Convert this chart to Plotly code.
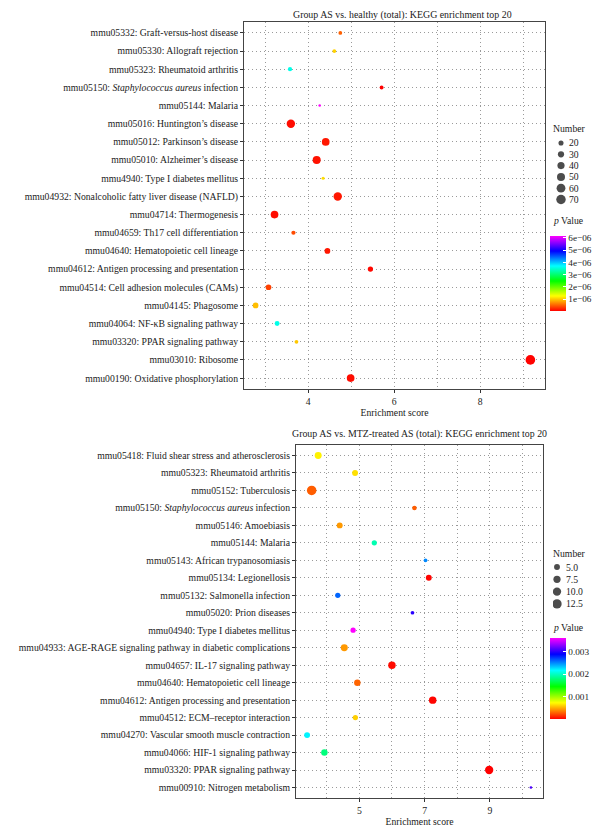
import plotly.graph_objects as go

# ---------------- data: top chart ----------------
top_terms = [
    "mmu05332: Graft-versus-host disease",
    "mmu05330: Allograft rejection",
    "mmu05323: Rheumatoid arthritis",
    "mmu05150: <i>Staphylococcus aureus</i> infection",
    "mmu05144: Malaria",
    "mmu05016: Huntington’s disease",
    "mmu05012: Parkinson’s disease",
    "mmu05010: Alzheimer’s disease",
    "mmu4940: Type I diabetes mellitus",
    "mmu04932: Nonalcoholic fatty liver disease (NAFLD)",
    "mmu04714: Thermogenesis",
    "mmu04659: Th17 cell differentiation",
    "mmu04640: Hematopoietic cell lineage",
    "mmu04612: Antigen processing and presentation",
    "mmu04514: Cell adhesion molecules (CAMs)",
    "mmu04145: Phagosome",
    "mmu04064: NF-κB signaling pathway",
    "mmu03320: PPAR signaling pathway",
    "mmu03010: Ribosome",
    "mmu00190: Oxidative phosphorylation",
]
top_score = [4.75, 4.61, 3.58, 5.71, 4.27, 3.60, 4.41, 4.20, 4.35, 4.69,
             3.22, 3.66, 4.45, 5.45, 3.08, 2.78, 3.28, 3.73, 9.17, 4.99]
top_count = [11, 11, 14, 12, 5, 55, 46, 50, 8, 55,
             46, 14, 25, 22, 25, 25, 19, 11, 72, 46]
top_pvalue = [0.5e-6, 1.05e-6, 3.6e-6, 0.04e-6, 6.16e-6, 0.10e-6, 0.15e-6, 0.12e-6, 1.1e-6, 0.15e-6,
              0.10e-6, 0.40e-6, 0.15e-6, 0.08e-6, 0.35e-6, 0.95e-6, 3.6e-6, 1.0e-6, 0.05e-6, 0.10e-6]
top_xticks = [4, 6, 8]
top_size_breaks = [20, 30, 40, 50, 60, 70]
top_size_labels = ["20", "30", "40", "50", "60", "70"]
top_cbar_vals = [1e-6, 2e-6, 3e-6, 4e-6, 5e-6, 6e-6]
top_cbar_text = ["1e−06", "2e−06", "3e−06", "4e−06", "5e−06", "6e−06"]

# ---------------- data: bottom chart ----------------
bot_terms = [
    "mmu05418: Fluid shear stress and atherosclerosis",
    "mmu05323: Rheumatoid arthritis",
    "mmu05152: Tuberculosis",
    "mmu05150: <i>Staphylococcus aureus</i> infection",
    "mmu05146: Amoebiasis",
    "mmu05144: Malaria",
    "mmu05143: African trypanosomiasis",
    "mmu05134: Legionellosis",
    "mmu05132: Salmonella infection",
    "mmu05020: Prion diseases",
    "mmu04940: Type I diabetes mellitus",
    "mmu04933: AGE-RAGE signaling pathway in diabetic complications",
    "mmu04657: IL-17 signaling pathway",
    "mmu04640: Hematopoietic cell lineage",
    "mmu04612: Antigen processing and presentation",
    "mmu04512: ECM–receptor interaction",
    "mmu04270: Vascular smooth muscle contraction",
    "mmu04066: HIF-1 signaling pathway",
    "mmu03320: PPAR signaling pathway",
    "mmu00910: Nitrogen metabolism",
]
bot_score = [3.74, 4.87, 3.54, 6.69, 4.40, 5.46, 7.03, 7.13, 4.34, 6.63,
             4.81, 4.54, 6.00, 4.94, 7.25, 4.88, 3.40, 3.93, 8.98, 10.26]
bot_count = [7, 5, 13, 3, 5, 4, 2, 5, 4, 2,
             4, 7, 8, 6, 8, 4, 5, 6, 10, 1]
bot_pvalue = [0.00070, 0.00065, 0.00028, 0.00028, 0.00045, 0.00195, 0.00250, 0.00003, 0.00260, 0.00300,
              0.00360, 0.00045, 0.00005, 0.00030, 0.00003, 0.00060, 0.00220, 0.00180, 0.00002, 0.00310]
bot_xticks = [5, 7, 9]
bot_size_breaks = [5.0, 7.5, 10.0, 12.5]
bot_size_labels = ["5.0", "7.5", "10.0", "12.5"]
bot_cbar_vals = [0.001, 0.002, 0.003]
bot_cbar_text = ["0.001", "0.002", "0.003"]

top_title = "Group AS vs. healthy (total): KEGG enrichment top 20"
bot_title = "Group AS vs. MTZ-treated AS (total): KEGG enrichment top 20"
x_title = "Enrichment score"

# ---------------- style ----------------
W, H = 600, 825
FONT = "Liberation Serif"
FS = 9.7
CFS = 9.2
TXT = "#1a1a1a"
GRID = "#9a9a9a"
GDASH = "1px,3px"
rainbow = [[0.0, "#FF0000"], [0.2, "#FFFF00"], [0.4, "#00FF00"],
           [0.6, "#00FFFF"], [0.8, "#0000FF"], [1.0, "#FF00FF"]]


def px_x(a, b):
    return [a / W, b / W]


def px_y(top, bottom):
    return [1 - bottom / H, 1 - top / H]


top_ref = 2 * 70 / (9.5 ** 2)
bot_ref = 2 * 13 / (9.5 ** 2)

fig = go.Figure()

fig.add_trace(go.Scatter(
    x=top_score, y=top_terms, mode="markers", xaxis="x", yaxis="y",
    marker=dict(size=top_count, sizemode="area", sizeref=top_ref,
                color=top_pvalue, coloraxis="coloraxis", line=dict(width=0), opacity=1),
    showlegend=False, hoverinfo="x+y"))

fig.add_trace(go.Scatter(
    x=bot_score, y=bot_terms, mode="markers", xaxis="x2", yaxis="y2",
    marker=dict(size=bot_count, sizemode="area", sizeref=bot_ref,
                color=bot_pvalue, coloraxis="coloraxis2", line=dict(width=0), opacity=1),
    showlegend=False, hoverinfo="x+y"))

# size legends (drawn through the same size scales)
fig.add_trace(go.Scatter(
    x=[0] * len(top_size_breaks), y=list(range(len(top_size_breaks))), mode="markers",
    xaxis="x3", yaxis="y3",
    marker=dict(size=top_size_breaks, sizemode="area", sizeref=top_ref, color="black", line=dict(width=0)),
    showlegend=False, hoverinfo="skip"))
fig.add_trace(go.Scatter(
    x=[0] * len(bot_size_breaks), y=list(range(len(bot_size_breaks))), mode="markers",
    xaxis="x4", yaxis="y4",
    marker=dict(size=bot_size_breaks, sizemode="area", sizeref=bot_ref, color="black", line=dict(width=0)),
    showlegend=False, hoverinfo="skip"))


def cat_axis(terms, top, bottom):
    return dict(domain=px_y(top, bottom), type="category", categoryarray=terms,
                range=[len(terms) - 1 + 0.6, -0.6], showgrid=True, gridcolor=GRID,
                griddash=GDASH, gridwidth=1, ticks="outside", ticklen=3, tickcolor="#333",
                showline=True, mirror=True, linecolor="#444", linewidth=1, zeroline=False,
                tickfont=dict(family=FONT, size=FS, color=TXT), fixedrange=True)


def val_axis(dom, rng, ticks, anchor):
    return dict(domain=dom, range=rng, tickvals=ticks, ticks="outside", ticklen=3, tickcolor="#333",
                showgrid=True, gridcolor=GRID, griddash=GDASH, gridwidth=1,
                minor=dict(dtick=1, tick0=0, showgrid=True, gridcolor=GRID, griddash=GDASH, gridwidth=1),
                showline=True, mirror=True, linecolor="#444", linewidth=1, zeroline=False,
                tickfont=dict(family=FONT, size=FS, color=TXT), anchor=anchor,
                title=dict(text=x_title, font=dict(family=FONT, size=FS, color=TXT), standoff=2),
                fixedrange=True)


def legend_y_range(dom_top, dom_bottom, first, step):
    return [(dom_bottom - first) / step, (dom_top - first) / step]


hidden = dict(visible=False, showgrid=False, zeroline=False, fixedrange=True)

LX = 545  # reference column for legend dots/labels (px)
CBX = 542  # left edge of colour bars and legend titles (px)

fig.update_layout(
    width=W, height=H, margin=dict(l=0, r=0, t=0, b=0),
    paper_bgcolor="white", plot_bgcolor="white",
    font=dict(family=FONT, size=FS, color=TXT),
    xaxis=val_axis(px_x(236, 537), [2.51, 9.51], top_xticks, "y"),
    yaxis=dict(cat_axis(top_terms, 14, 381), anchor="x"),
    xaxis2=val_axis(px_x(288, 535), [3.06, 10.63], bot_xticks, "y2"),
    yaxis2=dict(cat_axis(bot_terms, 437, 790), anchor="x2"),
    xaxis3=dict(hidden, domain=px_x(LX, 600), range=[-8, 47], anchor="y3"),
    yaxis3=dict(hidden, domain=px_y(124, 204), range=legend_y_range(124, 204, 135, 11.3), anchor="x3"),
    xaxis4=dict(hidden, domain=px_x(LX, 600), range=[-4, 51], anchor="y4"),
    yaxis4=dict(hidden, domain=px_y(550, 605), range=legend_y_range(550, 605, 559, 12.3), anchor="x4"),
    coloraxis=dict(colorscale=rainbow,
                   colorbar=dict(x=CBX / W, xanchor="left", y=1 - 303 / H, yanchor="bottom",
                                 len=75, lenmode="pixels", thickness=16, thicknessmode="pixels",
                                 ypad=0, xpad=0, outlinewidth=0, ticks="inside", ticklen=3,
                                 tickcolor="white", tickvals=top_cbar_vals, ticktext=top_cbar_text,
                                 tickfont=dict(family=FONT, size=CFS, color=TXT))),
    coloraxis2=dict(colorscale=rainbow,
                    colorbar=dict(x=CBX / W, xanchor="left", y=1 - 711 / H, yanchor="bottom",
                                  len=81, lenmode="pixels", thickness=16, thicknessmode="pixels",
                                  ypad=0, xpad=0, outlinewidth=0, ticks="inside", ticklen=3,
                                  tickcolor="white", tickvals=bot_cbar_vals, ticktext=bot_cbar_text,
                                  tickfont=dict(family=FONT, size=CFS, color=TXT))),
)

ann = []


def add_text(text, x, y, xanchor="left", yref="paper", size=FS):
    ann.append(dict(text=text, x=x / W, y=(1 - y / H) if yref == "paper" else y,
                    xref="paper", yref=yref, xanchor=xanchor, yanchor="middle", showarrow=False,
                    font=dict(family=FONT, size=size, color=TXT)))


add_text(top_title, 394, 7, "center", size=9.9)
add_text(bot_title, (288 + 535) / 2, 426, "center", size=9.9)
add_text("Number", CBX + 1, 120)
add_text("Number", CBX + 1, 545)
add_text("<i>p</i> Value", CBX + 1, 212)
add_text("<i>p</i> Value", CBX + 1, 619)
for i, lab in enumerate(top_size_labels):
    add_text(lab, LX + 14, i, yref="y3")
for i, lab in enumerate(bot_size_labels):
    add_text(lab, LX + 11, i, yref="y4")
fig.update_layout(annotations=ann)

fig.write_html("out.html")
